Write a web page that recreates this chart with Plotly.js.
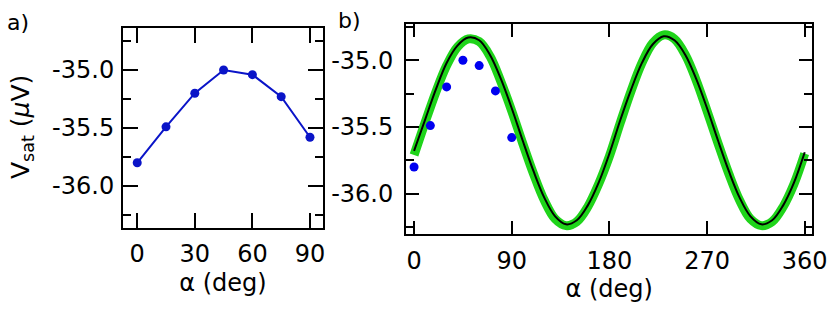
<!DOCTYPE html>
<html>
<head>
<meta charset="utf-8">
<script src="https://cdn.plot.ly/plotly-3.0.1.min.js"></script>
<style>
  html, body { margin: 0; padding: 0; background: #fff; }
  #chart { width: 830px; height: 326px; }
</style>
</head>
<body>
<div id="chart"></div>
<script>
// measured points (panel a, and dots in panel b)
const alphaData = [0, 15, 30, 45, 60, 75, 90];
const vsatData = [-35.80, -35.49, -35.20, -35.00, -35.04, -35.23, -35.58];

// fit curves in panel b, read every 10 deg
const alphaFit = [0, 10, 20, 30, 40, 50, 60, 70, 80, 90, 100, 110, 120, 130, 140, 150, 160, 170, 180,
                  190, 200, 210, 220, 230, 240, 250, 260, 270, 280, 290, 300, 310, 320, 330, 340, 350, 360];
const blackFit = [-35.68, -35.45, -35.22, -35.02, -34.89, -34.83, -34.85, -34.96, -35.14, -35.36,
                  -35.60, -35.83, -36.03, -36.17, -36.23, -36.20, -36.09, -35.92, -35.70,
                  -35.45, -35.22, -35.02, -34.88, -34.82, -34.85, -34.96, -35.14, -35.36,
                  -35.60, -35.83, -36.03, -36.17, -36.23, -36.20, -36.09, -35.92, -35.69];
const greenFit = [-35.71, -35.47, -35.24, -35.04, -34.90, -34.84, -34.86, -34.97, -35.16, -35.38,
                  -35.62, -35.85, -36.05, -36.19, -36.24, -36.21, -36.10, -35.93, -35.72,
                  -35.47, -35.23, -35.02, -34.87, -34.81, -34.84, -34.96, -35.15, -35.38,
                  -35.62, -35.85, -36.05, -36.19, -36.24, -36.21, -36.10, -35.93, -35.70];

const yTickVals = [-36.0, -35.5, -35.0];
const yTickText = ['-36.0', '-35.5', '-35.0'];
const xTicksA = [0, 30, 60, 90];
const xTicksB = [0, 90, 180, 270, 360];

const FONT = 'DejaVu Sans, Verdana, sans-serif';

function axisBase(extra) {
    return Object.assign({
        showgrid: false,
        zeroline: false,
        showline: true,
        linecolor: '#000',
        linewidth: 2,
        mirror: 'allticks',
        ticks: 'inside',
        ticklen: 15,
        tickwidth: 2,
        tickcolor: '#000',
        tickfont: { family: FONT, size: 24, color: '#000' },
    }, extra);
}

const traces = [
    {
        x: alphaData, y: vsatData,
        type: 'scatter', mode: 'lines+markers',
        line: { color: '#0a14c8', width: 2 },
        marker: { color: '#0a14c8', size: 9 },
        xaxis: 'x', yaxis: 'y',
    },
    {
        x: alphaFit, y: greenFit,
        type: 'scatter', mode: 'lines',
        line: { color: '#1fd41a', width: 9, shape: 'spline' },
        xaxis: 'x2', yaxis: 'y2',
    },
    {
        x: alphaFit, y: blackFit,
        type: 'scatter', mode: 'lines',
        line: { color: '#000', width: 2, shape: 'spline' },
        xaxis: 'x2', yaxis: 'y2',
    },
    {
        x: alphaData, y: vsatData,
        type: 'scatter', mode: 'markers',
        marker: { color: '#0000f0', size: 9 },
        xaxis: 'x2', yaxis: 'y2',
    },
];

const layout = {
    width: 830,
    height: 326,
    margin: { l: 0, r: 0, t: 0, b: 0 },
    paper_bgcolor: '#fff',
    plot_bgcolor: '#fff',
    showlegend: false,
    font: { family: FONT, color: '#000' },
    xaxis: axisBase({
        domain: [0.1482, 0.3892],
        range: [-7.4, 96.8],
        tickvals: xTicksA,
        ticklabelstandoff: 3,
        anchor: 'y',
        title: { text: 'α (deg)', font: { family: FONT, size: 24 }, standoff: 7 },
    }),
    yaxis: axisBase({
        domain: [0.3006, 0.9141],
        range: [-36.362, -34.638],
        tickvals: yTickVals,
        ticktext: yTickText,
        ticklabelstandoff: 2,
        minor: { dtick: 0.25, ticklen: 8, tickwidth: 2, tickcolor: '#000', ticks: 'inside' },
        anchor: 'x',
    }),
    xaxis2: axisBase({
        domain: [0.4892, 0.9787],
        range: [-7.4, 367],
        tickvals: xTicksB,
        ticklen: 13,
        ticklabelstandoff: 4,
        anchor: 'y2',
        title: { text: 'α (deg)', font: { family: FONT, size: 24 }, standoff: 6 },
    }),
    yaxis2: axisBase({
        domain: [0.2813, 0.9264],
        range: [-36.305, -34.728],
        tickvals: yTickVals,
        ticktext: yTickText,
        ticklen: 13,
        ticklabelstandoff: 6,
        minor: { dtick: 0.25, ticklen: 8, tickwidth: 2, tickcolor: '#000', ticks: 'inside' },
        anchor: 'x2',
    }),
    annotations: [
        { text: 'V<sub>sat</sub> (<i>μ</i>V)', xref: 'paper', yref: 'paper', x: 22 / 830, y: 1 - 127 / 326,
          textangle: -90, xanchor: 'center', yanchor: 'middle', showarrow: false, font: { family: FONT, size: 25 } },
        { text: 'a)', xref: 'paper', yref: 'paper', x: 18 / 830, y: 1 - 22 / 326,
          xanchor: 'center', yanchor: 'middle', showarrow: false, font: { family: FONT, size: 22 } },
        { text: 'b)', xref: 'paper', yref: 'paper', x: 349 / 830, y: 1 - 21 / 326,
          xanchor: 'center', yanchor: 'middle', showarrow: false, font: { family: FONT, size: 22 } },
    ],
};

Plotly.newPlot('chart', traces, layout, { displayModeBar: false, staticPlot: true });
</script>
</body>
</html>
